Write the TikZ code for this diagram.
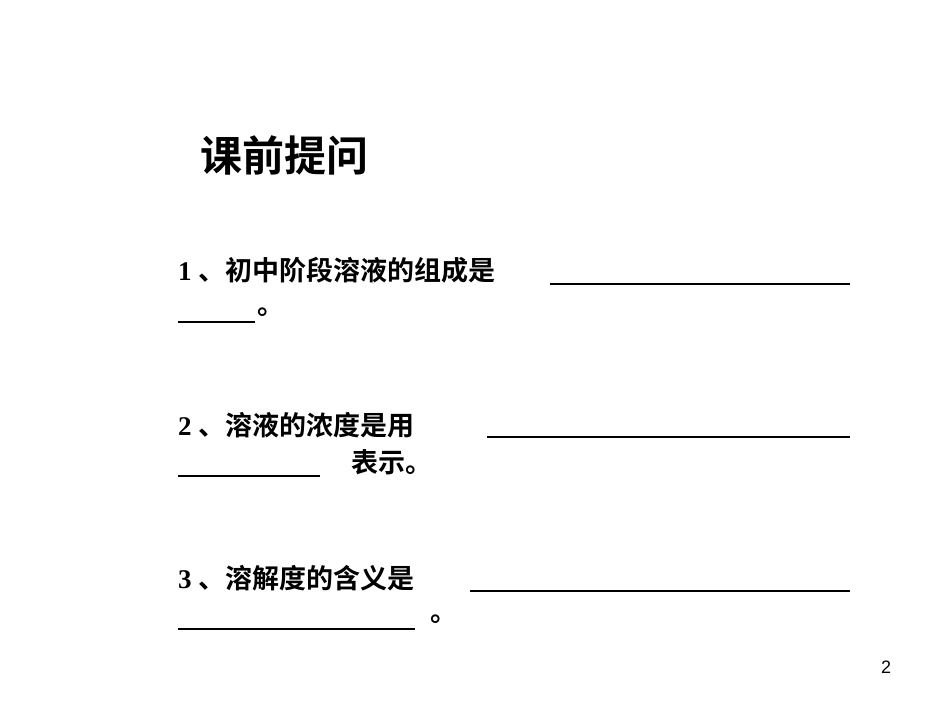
\documentclass[tikz,border=0pt]{standalone}
\usepackage{fontspec}
\newfontfamily\cjk{Noto Sans CJK SC}[BoldFont={* Bold}]
\newfontfamily\num{Liberation Serif}
\newfontfamily\pg{Liberation Sans}
\begin{document}
\begin{tikzpicture}[x=1pt,y=-1pt,
  q/.style={anchor=west,inner sep=0pt,font=\fontsize{27}{27}\selectfont\bfseries},
  ul/.style={line width=1.3pt}]
\useasboundingbox[fill=white] (0,0) rectangle (950,713);
\node[anchor=west,inner sep=0pt,font=\fontsize{42}{42}\selectfont\cjk\bfseries] (t) at (200,155) {课前提问};
\node[q] (q1) at (178,270) {\num 1 \cjk 、初中阶段溶液的组成是};
\coordinate (a1) at (550,284); \coordinate (b1) at (850,284);
\draw[ul] (a1) -- (b1);
\coordinate (a2) at (178,322); \coordinate (b2) at (255,322);
\draw[ul] (a2) -- (b2);
\node[q] (e1) at (257,312) {\cjk 。};
\node[q] (q2) at (178,425) {\num 2 \cjk 、溶液的浓度是用};
\coordinate (a3) at (487,437); \coordinate (b3) at (850,437);
\draw[ul] (a3) -- (b3);
\coordinate (a4) at (178,476); \coordinate (b4) at (320,476);
\draw[ul] (a4) -- (b4);
\node[q] (e2) at (351,462) {\cjk 表示。};
\node[q] (q3) at (178,578) {\num 3 \cjk 、溶解度的含义是};
\coordinate (a5) at (470,591); \coordinate (b5) at (850,591);
\draw[ul] (a5) -- (b5);
\coordinate (a6) at (178,629); \coordinate (b6) at (415,629);
\draw[ul] (a6) -- (b6);
\node[q] (e3) at (430,619) {\cjk 。};
\node[anchor=center,inner sep=0pt,font=\fontsize{18}{18}\selectfont\pg] (p) at (886,667) {2};
\end{tikzpicture}
\end{document}
